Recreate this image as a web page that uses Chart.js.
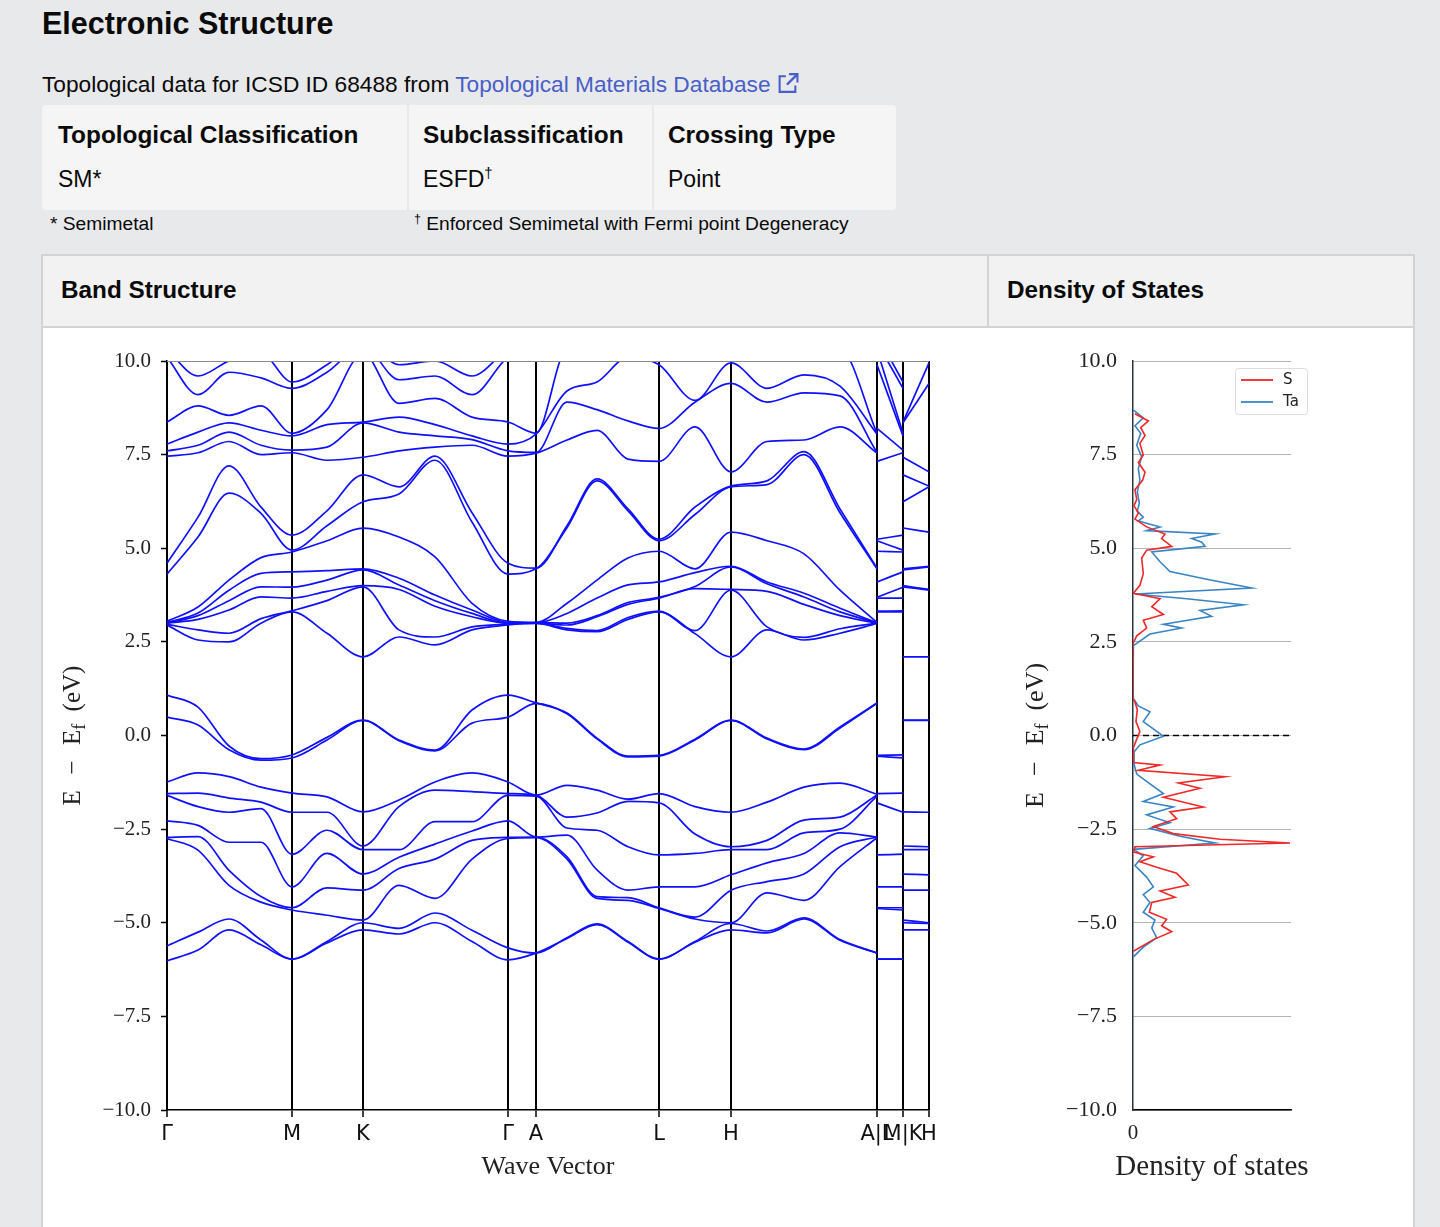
<!DOCTYPE html>
<html>
<head>
<meta charset="utf-8">
<script src="https://cdn.jsdelivr.net/npm/chart.js@4.4.1/dist/chart.umd.min.js"></script>
<style>
html, body { margin: 0; padding: 0; }
body {
    width: 1440px; height: 1227px; overflow: hidden; position: relative;
    background: #e8e9eb; color: #0a0a0a;
    font-family: "Liberation Sans", Arial, sans-serif;
}
.title { position: absolute; left: 42px; top: 8px; margin: 0; font-size: 30.5px; line-height: 30px; font-weight: bold; }
.lead { position: absolute; left: 42px; top: 72px; font-size: 22.7px; line-height: 22px; white-space: nowrap; }
.lead a { color: #485fc7; text-decoration: none; }
.lead svg { vertical-align: -2px; margin-left: 5px; }
.topo { position: absolute; left: 42px; top: 105px; height: 105px; display: flex; gap: 2px; }
.cell { background: #f5f5f5; box-sizing: border-box; padding: 18px 0 0 14px; }
.cell:first-child { border-radius: 4px 0 0 4px; padding-left: 16px; }
.cell:last-child { border-radius: 0 4px 4px 0; }
.cell .h { font-size: 24.4px; line-height: 24px; font-weight: bold; }
.cell .v { font-size: 23px; line-height: 23px; margin-top: 21px; }
.cell sup, .note sup { font-size: 0.65em; line-height: 0; vertical-align: 0.6em; }
.note { position: absolute; top: 215px; font-size: 19.2px; line-height: 18px; white-space: nowrap; }
.card { position: absolute; left: 41px; top: 254px; width: 1374px; height: 1000px; box-sizing: border-box;
        border: 2px solid #d3d3d3; background: #fff; }
.card .head { display: flex; height: 72px; box-sizing: border-box; border-bottom: 2px solid #d3d3d3; background: #f2f2f2; }
.card .head div { box-sizing: border-box; padding: 22px 0 0 18px; font-size: 24.3px; line-height: 24px; font-weight: bold; }
.card .head div:first-child { width: 946px; border-right: 2px solid #d3d3d3; }
canvas { position: absolute; }
#bandChart { left: 41px; top: 326px; }
#dosChart { left: 991px; top: 326px; }
</style>
</head>
<body>
<h1 class="title">Electronic Structure</h1>
<div class="lead">Topological data for ICSD ID 68488 from <a href="#">Topological Materials Database<svg width="24" height="22" viewBox="0 0 22 21"><path d="M9 4H3v15h15v-6" fill="none" stroke="#485fc7" stroke-width="2"/><path d="M12 2h8v8" fill="none" stroke="#485fc7" stroke-width="2"/><path d="M20 2L10 12" stroke="#485fc7" stroke-width="2.2"/></svg></a></div>
<div class="topo">
    <div class="cell" style="width:365px"><div class="h">Topological Classification</div><div class="v">SM*</div></div>
    <div class="cell" style="width:243px"><div class="h">Subclassification</div><div class="v">ESFD<sup>†</sup></div></div>
    <div class="cell" style="width:242px"><div class="h">Crossing Type</div><div class="v">Point</div></div>
</div>
<div class="note" style="left:50px">* Semimetal</div>
<div class="note" style="left:414px"><sup>†</sup> Enforced Semimetal with Fermi point Degeneracy</div>
<div class="card">
    <div class="head"><div>Band Structure</div><div>Density of States</div></div>
</div>
<canvas id="bandChart" width="908" height="859"></canvas>
<canvas id="dosChart" width="340" height="859"></canvas>
<script>
// k-path: high-symmetry points and the sampled path positions
const kTicks = [0, 125, 196, 341, 369, 492, 564, 710, 736, 762];
const kLabels = ['Γ', 'M', 'K', 'Γ', 'A', 'L', 'H', 'A|L', 'M|K', 'H'];
const kPath = [0, 31, 62, 94, 125, 160, 196, 232, 268, 305, 341, 369, 400, 430, 461, 492, 528, 564, 600, 637, 673, 710];
// indices of M, K, L, H in kPath (used for the L-M and K-H pieces)
const iM = 4, iK = 6, iL = 15, iH = 17;

// energies (eV) along kPath
const valenceBands = [
    [-1.24, -1.0, -1.1, -1.38, -1.54, -1.64, -2.04, -1.72, -1.24, -1.0, -1.24, -1.59, -1.33, -1.46, -1.7, -1.55, -1.9, -2.05, -1.78, -1.38, -1.27, -1.57],
    [-1.55, -1.54, -1.67, -1.78, -2.05, -2.05, -2.95, -1.9, -1.46, -1.5, -1.55, -1.59, -2.18, -2.07, -1.76, -1.8, -2.63, -2.97, -2.8, -2.26, -2.18, -1.59],
    [-1.6, -1.9, -2.05, -1.95, -3.17, -2.53, -3.05, -3.05, -2.3, -2.3, -1.6, -1.62, -2.47, -2.53, -2.97, -3.19, -3.15, -3.05, -3.05, -2.6, -2.5, -1.62],
    [-2.28, -2.4, -2.85, -2.85, -4.04, -3.15, -3.7, -3.25, -2.9, -2.55, -2.28, -2.71, -2.66, -3.59, -4.13, -4.04, -4.04, -3.72, -3.4, -3.15, -2.6, -2.71],
    [-2.72, -2.7, -3.6, -4.3, -4.6, -4.07, -4.13, -3.55, -3.3, -2.8, -2.72, -2.71, -3.24, -4.3, -4.33, -4.6, -4.85, -4.13, -3.9, -3.7, -2.97, -2.71],
    [-2.75, -3.06, -4.0, -4.45, -4.66, -4.8, -4.93, -4.0, -4.35, -3.3, -2.75, -2.73, -3.3, -4.35, -4.4, -4.62, -4.9, -5.0, -4.2, -4.4, -3.5, -2.73],
    [-5.62, -5.25, -4.9, -5.46, -5.97, -5.5, -5.0, -5.15, -4.74, -5.2, -5.67, -5.81, -5.4, -5.03, -5.5, -5.97, -5.5, -5.02, -5.22, -4.87, -5.45, -5.81],
    [-6.02, -5.73, -5.19, -5.59, -5.97, -5.54, -5.19, -5.3, -5.0, -5.5, -5.99, -5.81, -5.42, -5.05, -5.52, -5.97, -5.52, -5.19, -5.27, -4.9, -5.47, -5.81]
];
const fermiBands = [
    [1.08, 0.76, -0.28, -0.62, -0.52, -0.05, 0.41, -0.12, -0.39, 0.68, 1.08, 0.87, 0.6, -0.07, -0.55, -0.53, -0.1, 0.41, -0.07, -0.36, 0.23, 0.87],
    [0.49, 0.28, -0.38, -0.66, -0.6, -0.12, 0.4, -0.14, -0.41, 0.33, 0.49, 0.86, 0.58, -0.09, -0.57, -0.55, -0.12, 0.4, -0.09, -0.38, 0.2, 0.86]
];
const conductionBands = [
    [2.95, 2.55, 2.5, 3.0, 3.3, 2.73, 2.1, 2.63, 2.42, 2.82, 2.95, 2.99, 2.82, 2.77, 3.1, 3.3, 2.72, 2.1, 2.82, 2.55, 2.73, 2.99],
    [2.97, 2.82, 2.73, 3.12, 3.33, 3.6, 3.97, 2.82, 2.63, 2.9, 2.97, 3.0, 2.86, 2.8, 3.15, 3.32, 2.8, 3.88, 2.9, 2.62, 2.85, 3.0],
    [3.0, 3.1, 3.35, 3.7, 3.67, 3.85, 4.0, 3.9, 3.45, 3.17, 3.0, 3.0, 2.95, 3.17, 3.5, 3.67, 3.92, 3.9, 3.85, 3.5, 3.2, 3.0],
    [3.0, 3.2, 3.6, 3.97, 3.96, 4.15, 4.42, 4.02, 3.6, 3.26, 3.0, 3.01, 3.0, 3.2, 3.55, 3.69, 3.98, 4.5, 4.05, 3.7, 3.3, 3.01],
    [3.02, 3.27, 3.88, 4.33, 4.37, 4.4, 4.45, 4.2, 3.75, 3.35, 3.02, 3.01, 3.26, 3.67, 4.02, 4.1, 4.35, 4.52, 4.1, 3.8, 3.4, 3.01],
    [3.05, 3.43, 4.15, 4.75, 4.9, 5.2, 5.54, 5.3, 4.77, 3.53, 3.05, 3.02, 3.53, 4.15, 4.74, 4.92, 4.45, 5.43, 5.2, 4.85, 3.88, 3.02],
    [4.31, 5.3, 6.47, 5.93, 4.95, 5.6, 6.24, 6.45, 7.35, 5.7, 4.31, 4.45, 5.55, 6.8, 6.0, 5.2, 5.9, 6.64, 6.7, 7.5, 5.95, 4.45],
    [4.6, 5.83, 7.2, 6.1, 5.35, 6.0, 6.96, 6.64, 7.46, 5.95, 4.6, 4.47, 5.6, 6.85, 6.05, 5.24, 6.1, 6.66, 6.8, 7.58, 6.05, 4.47]
];
const upperBands = [
    [7.46, 7.55, 7.85, 7.5, 7.55, 7.35, 7.43, 7.6, 7.7, 7.75, 7.46, 7.54, 7.89, 8.15, 7.38, 7.32, 8.24, 7.04, 7.85, 7.89, 8.24, 7.54],
    [7.6, 7.75, 8.1, 7.75, 7.62, 7.7, 8.35, 8.1, 8.0, 7.9, 7.6, 7.56, 8.9, 8.7, 8.4, 8.2, 8.9, 9.4, 8.9, 9.15, 9.07, 7.56],
    [7.78, 8.1, 8.35, 8.15, 8.0, 8.3, 8.37, 8.5, 8.3, 8.0, 7.78, 8.05, 9.2, 9.44, 10.1, 9.9, 8.95, 9.95, 9.27, 9.63, 9.33, 8.05],
    [8.37, 8.8, 8.55, 8.8, 8.07, 8.7, 10.2, 8.87, 9.0, 8.5, 8.37, 8.07, 10.3, 10.3, 10.3, 10.3, 10.3, 10.3, 10.3, 10.3, 10.3, 8.07],
    [10.1, 9.1, 9.7, 9.55, 9.27, 9.7, 10.4, 9.5, 9.6, 9.1, 10.1, 10.3, 10.5, 10.5, 10.5, 10.5, 10.5, 10.5, 10.5, 10.5, 10.5, 10.3],
    [10.3, 9.6, 10.0, 10.2, 9.44, 9.9, 10.6, 9.9, 10.0, 9.6, 10.3, 10.5, 10.7, 10.7, 10.7, 10.7, 10.7, 10.7, 10.7, 10.7, 10.7, 10.5]
];

const energyTicks = [-10, -7.5, -5, -2.5, 0, 2.5, 5, 7.5, 10];

// projected density of states
const sEnergy = [8.59, 8.40, 8.22, 8.01, 7.80, 7.49, 7.29, 7.03, 6.82, 6.56, 6.30, 6.14, 5.94, 5.78, 5.57, 5.38, 5.26, 5.05, 4.95, 4.74, 4.32, 4.01, 3.80, 3.65, 3.44, 3.23, 3.08, 2.87, 2.66, 2.45, 0.98, 0.89, 0.69, 0.37, 0.11, -0.15, -0.35, -0.56, -0.72, -0.79, -0.93, -1.10, -1.27, -1.41, -1.65, -1.91, -2.04, -2.22, -2.43, -2.62, -2.77, -2.87, -2.97, -3.11, -3.24, -3.37, -3.52, -3.68, -3.99, -4.15, -4.32, -4.46, -4.72, -4.91, -5.08, -5.24, -5.45, -5.76];
const sDos = [0.10, 0.78, 0.39, 0.61, 0.35, 0.52, 0.27, 0.61, 0.49, 0.10, 0.19, 0.05, 0.27, 0.10, 0.69, 1.62, 1.45, 1.96, 0.69, 0.44, 0.52, 0.35, 0.02, 1.37, 0.95, 1.54, 0.52, 0.69, 0.19, 0.0, 0.0, 0.10, 0.22, 0.15, 0.35, 0.15, 0.0, 0.0, 0.05, 1.37, 0.27, 4.66, 2.30, 3.39, 1.54, 3.56, 1.87, 2.21, 1.03, 2.04, 4.41, 7.95, 0.10, 0.02, 1.03, 0.35, 1.20, 2.21, 2.80, 1.37, 2.13, 0.95, 0.83, 1.70, 1.45, 1.96, 1.03, 0.02];
const taEnergy = [8.69, 8.48, 8.27, 8.07, 7.75, 7.44, 7.13, 6.82, 6.51, 6.20, 5.99, 5.83, 5.73, 5.57, 5.47, 5.38, 5.26, 5.16, 5.05, 4.90, 4.64, 4.38, 4.17, 3.94, 3.78, 3.65, 3.49, 3.34, 3.18, 2.97, 2.87, 2.71, 2.40, 1.00, 0.79, 0.63, 0.37, -0.02, -0.25, -0.46, -0.77, -1.03, -1.29, -1.55, -1.76, -1.91, -2.12, -2.33, -2.48, -2.69, -2.87, -3.04, -3.21, -3.47, -3.78, -4.04, -4.25, -4.46, -4.72, -4.93, -5.14, -5.40, -5.65, -5.91];
const taDos = [0.02, 0.52, 0.10, 0.39, 0.19, 0.44, 0.27, 0.35, 0.22, 0.32, 0.22, 0.52, 0.27, 1.37, 0.69, 4.15, 2.97, 3.48, 3.65, 0.95, 1.37, 1.87, 3.73, 6.01, 0.10, 2.72, 5.59, 3.39, 3.98, 1.54, 2.46, 0.86, 0.02, 0.0, 0.27, 0.86, 0.52, 1.54, 0.35, 0.02, 0.05, 0.19, 0.86, 1.54, 0.52, 2.04, 0.69, 1.87, 0.86, 2.38, 4.15, 0.02, 0.52, 0.10, 0.69, 1.03, 0.52, 0.86, 0.52, 1.11, 0.95, 1.20, 0.52, 0.02];
const dosMax = 8;
const fermiLevel = 0;

const serif = '"Liberation Serif", "DejaVu Serif", serif';
const sans = '"DejaVu Sans", sans-serif';

function fmtEnergy(v) {
    return v.toFixed(1).replace('-', '\u2212');
}

// main path, then the L-M and K-H pieces, separated by gaps
function bandPoints(vals) {
    const pts = kPath.map((k, i) => ({ x: k, y: vals[i] }));
    pts.push({ x: kTicks[7], y: null });
    pts.push({ x: kTicks[7], y: vals[iL] }, { x: kTicks[8], y: vals[iM] });
    pts.push({ x: kTicks[8], y: null });
    pts.push({ x: kTicks[8], y: vals[iK] }, { x: kTicks[9], y: vals[iH] });
    return pts;
}

// "E - E_f (eV)" with a real subscript, rotated along the y axis
const yTitlePlugin = {
    id: 'yTitle',
    afterDraw(chart, args, opts) {
        const { ctx, chartArea } = chart;
        const size = opts.size || 25;
        ctx.save();
        ctx.translate(opts.x, (chartArea.top + chartArea.bottom) / 2);
        ctx.rotate(-Math.PI / 2);
        ctx.fillStyle = '#222';
        ctx.textBaseline = 'alphabetic';
        const big = size + 'px ' + serif, small = Math.round(size * 0.7) + 'px ' + serif;
        const gap = size * 0.62;
        // [text, font, baseline shift, space after]
        const parts = [['E', big, 0, gap], ['\u2212', big, 0, gap], ['E', big, 0, 0], ['f', small, 5, gap * 0.8], ['(eV)', big, 0, 0]];
        let total = 0;
        parts.forEach(p => { ctx.font = p[1]; total += ctx.measureText(p[0]).width + p[3]; });
        let x = -total / 2;
        parts.forEach(p => {
            ctx.font = p[1];
            ctx.fillText(p[0], x, 8 + p[2]);
            x += ctx.measureText(p[0]).width + p[3];
        });
        ctx.restore();
    }
};

// x title drawn without the width squeeze Chart.js applies
const xTitlePlugin = {
    id: 'xTitle',
    afterDraw(chart, args, opts) {
        if (!opts.text) return;
        const { ctx, chartArea } = chart;
        ctx.save();
        ctx.font = opts.size + 'px ' + serif;
        ctx.fillStyle = '#222';
        ctx.textAlign = 'center';
        ctx.textBaseline = 'middle';
        ctx.fillText(opts.text, (chartArea.left + chartArea.right) / 2, chartArea.bottom + opts.dy);
        ctx.restore();
    }
};

const topFramePlugin = {
    id: 'topFrame',
    afterDraw(chart) {
        const { ctx, chartArea } = chart;
        ctx.save();
        ctx.strokeStyle = '#8a8a8a';
        ctx.lineWidth = 1;
        ctx.beginPath();
        ctx.moveTo(chartArea.left, chartArea.top + 0.5);
        ctx.lineTo(chartArea.right, chartArea.top + 0.5);
        ctx.stroke();
        ctx.restore();
    }
};

// matplotlib-like legend box in the top right corner
const dosLegendPlugin = {
    id: 'dosLegend',
    afterDraw(chart) {
        const { ctx, chartArea } = chart;
        const items = chart.data.datasets.filter(d => d.label);
        const left = chartArea.right - 56, top = chartArea.top + 7;
        ctx.save();
        ctx.fillStyle = 'rgba(255,255,255,0.85)';
        ctx.strokeStyle = '#dcdcdc';
        ctx.lineWidth = 1;
        ctx.beginPath();
        ctx.roundRect(left + 0.5, top + 0.5, 72, 46, 3);
        ctx.fill();
        ctx.stroke();
        ctx.font = '15px ' + sans;
        ctx.textBaseline = 'middle';
        items.forEach((d, i) => {
            const y = top + 12 + i * 22;
            ctx.strokeStyle = d.borderColor;
            ctx.lineWidth = 1.8;
            ctx.beginPath();
            ctx.moveTo(left + 6, y);
            ctx.lineTo(left + 38, y);
            ctx.stroke();
            ctx.fillStyle = '#222';
            ctx.fillText(d.label, left + 48, y);
        });
        ctx.restore();
    }
};

const allBands = [...valenceBands, ...fermiBands, ...conductionBands, ...upperBands];

new Chart(document.getElementById('bandChart'), {
    type: 'line',
    data: {
        datasets: allBands.map(b => ({
            data: bandPoints(b),
            borderColor: '#1010ff',
            borderWidth: 1.7,
            pointRadius: 0,
            cubicInterpolationMode: 'monotone',
            spanGaps: false
        }))
    },
    options: {
        responsive: false,
        animation: false,
        events: [],
        layout: { padding: { top: 35, right: 20, left: 0, bottom: 0 } },
        scales: {
            x: {
                type: 'linear',
                min: kTicks[0],
                max: kTicks[kTicks.length - 1],
                z: 1,
                afterBuildTicks: scale => { scale.ticks = kTicks.map(v => ({ value: v })); },
                afterFit: scale => { scale.height = 75; },
                ticks: {
                    autoSkip: false,
                    maxRotation: 0,
                    padding: 5,
                    color: '#111',
                    font: { family: sans, size: 21 },
                    callback: (v, i) => kLabels[i]
                },
                grid: { color: '#000', lineWidth: 2, tickLength: 7, tickColor: '#000', tickWidth: 1.5 },
                border: { color: '#000', width: 1.5 },
                title: {
                    display: true,
                    text: 'Wave Vector',
                    color: '#222',
                    font: { family: serif, size: 26 },
                    padding: { top: 0, bottom: 2 }
                }
            },
            y: {
                min: -10,
                max: 10,
                afterBuildTicks: scale => { scale.ticks = energyTicks.map(v => ({ value: v })); },
                afterFit: scale => { scale.width = 126; },
                ticks: {
                    padding: 10,
                    color: '#222',
                    font: { family: serif, size: 21 },
                    callback: v => fmtEnergy(v)
                },
                grid: { drawOnChartArea: false, tickLength: 6, tickColor: '#000', tickWidth: 1.5 },
                border: { color: '#000', width: 1.5 }
            }
        },
        plugins: {
            legend: { display: false },
            tooltip: { enabled: false },
            yTitle: { x: 31, size: 25 },
            xTitle: {}
        }
    },
    plugins: [yTitlePlugin, topFramePlugin, xTitlePlugin]
});

new Chart(document.getElementById('dosChart'), {
    type: 'scatter',
    data: {
        datasets: [
            {
                label: 'S',
                data: sEnergy.map((e, i) => ({ x: sDos[i], y: e })),
                borderColor: '#f02828',
                borderWidth: 1.6,
                showLine: true,
                pointRadius: 0
            },
            {
                label: 'Ta',
                data: taEnergy.map((e, i) => ({ x: taDos[i], y: e })),
                borderColor: '#3a84c4',
                borderWidth: 1.6,
                showLine: true,
                pointRadius: 0
            },
            {
                data: [{ x: 0, y: fermiLevel }, { x: dosMax, y: fermiLevel }],
                borderColor: '#000',
                borderWidth: 1.6,
                borderDash: [6, 4],
                showLine: true,
                pointRadius: 0
            }
        ]
    },
    options: {
        responsive: false,
        animation: false,
        events: [],
        layout: { padding: { top: 35, right: 40, left: 0, bottom: 0 } },
        scales: {
            x: {
                type: 'linear',
                min: 0,
                max: dosMax,
                afterBuildTicks: scale => { scale.ticks = [{ value: 0 }]; },
                afterFit: scale => { scale.height = 75; },
                ticks: { padding: 11, color: '#222', font: { family: serif, size: 21 }, callback: v => String(v) },
                grid: { drawOnChartArea: false, drawTicks: false },
                border: { color: '#000', width: 1.5 }
            },
            y: {
                min: -10,
                max: 10,
                afterBuildTicks: scale => { scale.ticks = energyTicks.map(v => ({ value: v })); },
                afterFit: scale => { scale.width = 142; },
                ticks: { padding: 16, color: '#222', font: { family: serif, size: 22 }, callback: v => fmtEnergy(v) },
                grid: { color: '#b4b4b4', lineWidth: 1, drawTicks: false },
                border: { color: '#2b3440', width: 1.5 }
            }
        },
        plugins: {
            legend: { display: false },
            tooltip: { enabled: false },
            yTitle: { x: 44, size: 26 },
            xTitle: { text: 'Density of states', size: 29, dy: 57 }
        }
    },
    plugins: [yTitlePlugin, dosLegendPlugin, xTitlePlugin]
});
</script>
</body>
</html>
